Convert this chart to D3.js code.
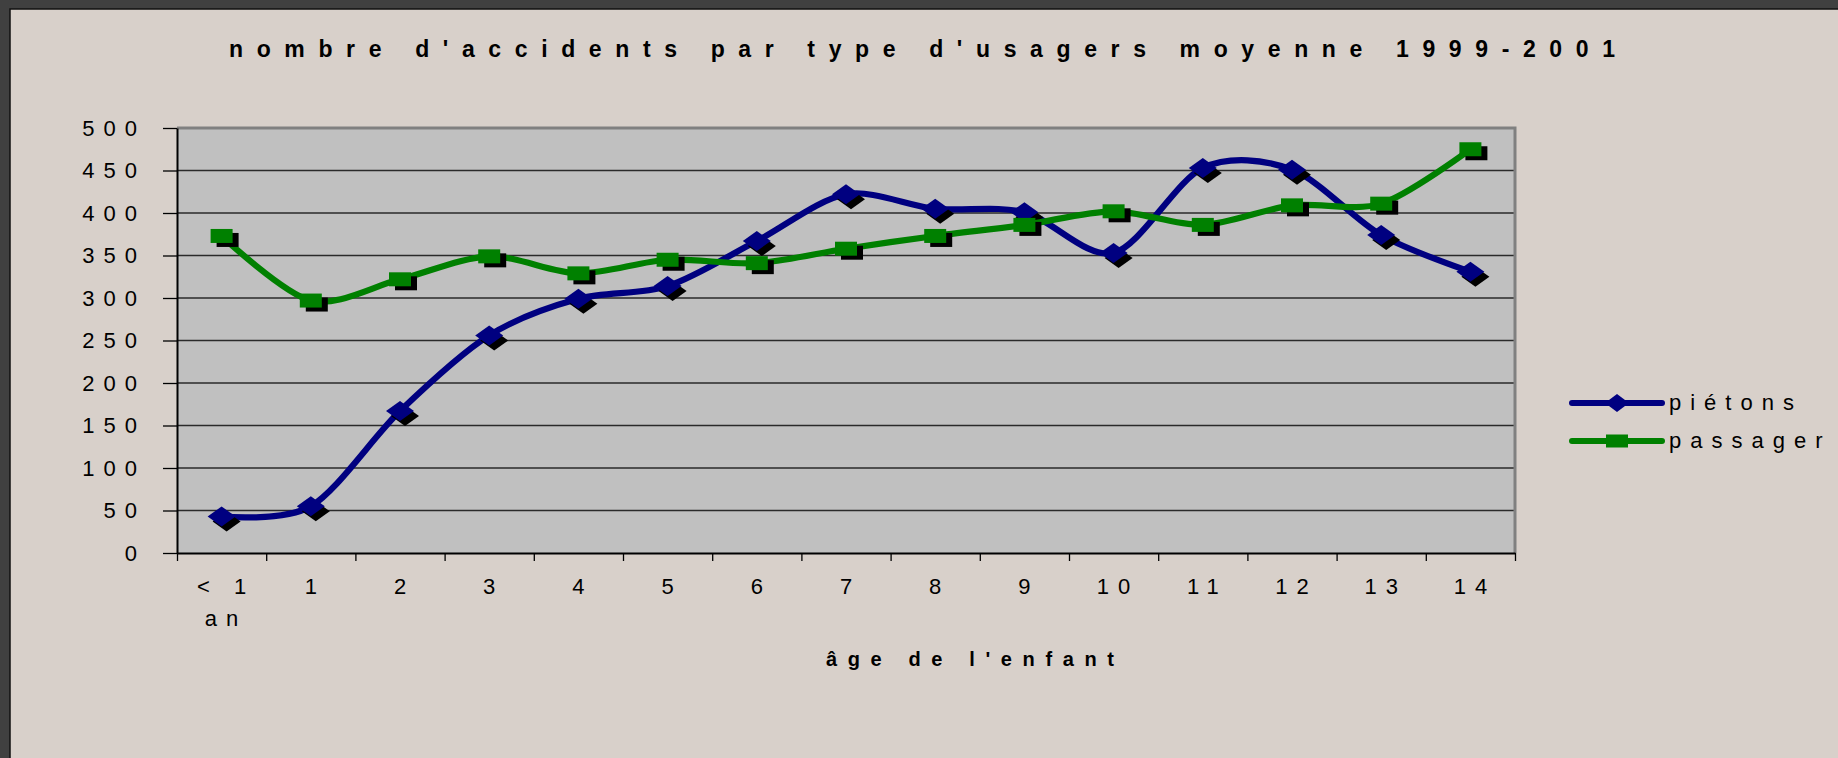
<!DOCTYPE html>
<html>
<head>
<meta charset="utf-8">
<script src="https://cdn.jsdelivr.net/npm/d3@7"></script>
<style>
  html, body { margin: 0; padding: 0; background: #404040; }
  svg { display: block; }
  text { font-family: "Liberation Sans", Arial, sans-serif; fill: #000; }
</style>
</head>
<body>
<svg id="chart" width="1838" height="758"></svg>
<script>
// data
var categories = ["< 1 an", "1", "2", "3", "4", "5", "6", "7", "8", "9", "10", "11", "12", "13", "14"];
var pietons = [43, 55, 167, 256, 299, 314, 367, 422, 405, 401, 353, 453, 451, 374, 331];
var passager = [373, 297, 322, 349, 329, 345, 341, 358, 373, 386, 402, 386, 409, 411, 475];
var yTicks = [0, 50, 100, 150, 200, 250, 300, 350, 400, 450, 500];
var seriesNames = ["piétons", "passager"];

var svg = d3.select("#chart"),
    W = 1838, H = 758;

// plot box
var plotLeft = 177, plotRight = 1515, plotTop = 128, plotBottom = 553;

// outer frame
svg.append("rect").attr("width", W).attr("height", H).attr("fill", "#404040");
svg.append("rect")
    .attr("x", 10).attr("y", 9).attr("width", W).attr("height", H)
    .attr("fill", "#d8d0ca").attr("stroke", "#111").attr("stroke-width", 1.5);

var x = d3.scaleBand().domain(categories).range([plotLeft, plotRight]);
var xEdge = d3.scaleLinear().domain([0, categories.length]).range([plotLeft, plotRight]);
var y = d3.scaleLinear().domain([0, 500]).range([plotBottom, plotTop]);

// plot area
svg.append("rect")
    .attr("x", plotLeft).attr("y", plotTop)
    .attr("width", plotRight - plotLeft).attr("height", plotBottom - plotTop)
    .attr("fill", "#c0c0c0");

// gridlines
svg.append("g").selectAll("line")
    .data(yTicks.filter(function(d){ return d > 0 && d < 500; }))
    .enter().append("line")
      .attr("x1", plotLeft).attr("x2", plotRight)
      .attr("y1", function(d){ return y(d); })
      .attr("y2", function(d){ return y(d); })
      .attr("stroke", "#2a2a2a").attr("stroke-width", 1.4);

// top / right border (gray)
svg.append("path")
    .attr("d", "M" + plotLeft + "," + plotTop + "H" + plotRight + "V" + plotBottom)
    .attr("fill", "none").attr("stroke", "#808080").attr("stroke-width", 3);

// y axis
var yAxis = svg.append("g")
    .attr("transform", "translate(" + plotLeft + ",0)")
    .call(d3.axisLeft(y).tickValues(yTicks).tickSize(14).tickSizeOuter(0).tickPadding(17).tickFormat(d3.format("d")));
yAxis.select(".domain").attr("stroke", "#000").attr("stroke-width", 2);
yAxis.selectAll(".tick line").attr("stroke", "#000").attr("stroke-width", 1.3);
yAxis.selectAll(".tick text")
    .style("font-size", "22px").style("letter-spacing", "9px")
    .attr("fill", "#000");

// x axis : ticks at band edges
var xAxis = svg.append("g")
    .attr("transform", "translate(0," + plotBottom + ")")
    .call(d3.axisBottom(xEdge).tickValues(d3.range(categories.length + 1)).tickSize(8).tickSizeOuter(0).tickFormat(""));
xAxis.select(".domain").attr("stroke", "#000").attr("stroke-width", 2);
xAxis.selectAll(".tick line").attr("stroke", "#000").attr("stroke-width", 1.3);

// x labels (centered on bands, "< 1 an" wrapped)
var xl = svg.append("g").selectAll("text")
    .data(categories)
    .enter().append("text")
      .attr("text-anchor", "middle")
      .style("font-size", "22px").style("letter-spacing", "9px")
      .attr("transform", function(d){ return "translate(" + (x(d) + x.bandwidth() / 2 + 4.5) + ",594)"; });
xl.selectAll("tspan")
    .data(function(d){ return d.split(/ (?=an)/); })
    .enter().append("tspan")
      .attr("x", 0)
      .attr("y", function(d, i){ return i * 32; })
      .text(function(d){ return d; });

// series
var line = d3.line()
    .x(function(d, i){ return x(categories[i]) + x.bandwidth() / 2; })
    .y(function(d){ return y(d); })
    .curve(d3.curveCardinal.tension(0.1));

function diamond(w, h){ return "M" + (-w/2) + ",0L0," + (-h/2) + "L" + (w/2) + ",0L0," + (h/2) + "Z"; }
function square(w, h){ return "M" + (-w/2) + "," + (-h/2) + "h" + w + "v" + h + "h" + (-w) + "Z"; }

var series = [
  { name: seriesNames[0], values: pietons, color: "#000080", shape: diamond(28, 20), legendShape: diamond(24, 18), shadow: [5, 5] },
  { name: seriesNames[1], values: passager, color: "#008000", shape: square(22, 14), legendShape: square(22, 13), shadow: [6, 4] }
];

series.forEach(function(s){
  var g = svg.append("g");
  g.append("path")
      .attr("d", line(s.values))
      .attr("fill", "none").attr("stroke", s.color)
      .attr("stroke-width", 6.2).attr("stroke-linejoin", "round");
  // marker shadows
  g.selectAll(".shadow")
      .data(s.values)
      .enter().append("path")
        .attr("class", "shadow")
        .attr("d", s.shape)
        .attr("fill", "#000")
        .attr("transform", function(d, i){
          return "translate(" + (x(categories[i]) + x.bandwidth() / 2 + s.shadow[0]) + "," + (y(d) + s.shadow[1]) + ")";
        });
  g.selectAll(".marker")
      .data(s.values)
      .enter().append("path")
        .attr("class", "marker")
        .attr("d", s.shape)
        .attr("fill", s.color)
        .attr("transform", function(d, i){
          return "translate(" + (x(categories[i]) + x.bandwidth() / 2) + "," + y(d) + ")";
        });
});

// legend
var legend = svg.append("g").selectAll("g")
    .data(series)
    .enter().append("g")
      .attr("transform", function(d, i){ return "translate(1572," + (403 + i * 38) + ")"; });
legend.append("line")
    .attr("x1", 0).attr("x2", 90)
    .attr("stroke", function(d){ return d.color; })
    .attr("stroke-width", 6).attr("stroke-linecap", "round");
legend.append("path")
    .attr("d", function(d){ return d.legendShape; })
    .attr("transform", "translate(45,0)")
    .attr("fill", function(d){ return d.color; });
legend.append("text")
    .attr("x", 97).attr("y", 7)
    .style("font-size", "22px").style("letter-spacing", "9px")
    .text(function(d){ return d.name; });

// spaced-out bold titles, spacing fitted to the width they take in the picture
function spacedText(str, x0, inkWidth, baseline, size){
  var t = svg.append("text")
      .attr("x", x0).attr("y", baseline)
      .style("font-size", size + "px").style("font-weight", "bold")
      .text(str);
  var w0 = t.node().getComputedTextLength();
  var sp = (inkWidth - w0) / (str.length - 1);
  t.style("letter-spacing", sp + "px");
  return t;
}

spacedText("nombre d'accidents par type d'usagers moyenne 1999-2001", 229, 1386, 57, 23);
spacedText("âge de l'enfant", 826, 288, 666, 20);
</script>
</body>
</html>
